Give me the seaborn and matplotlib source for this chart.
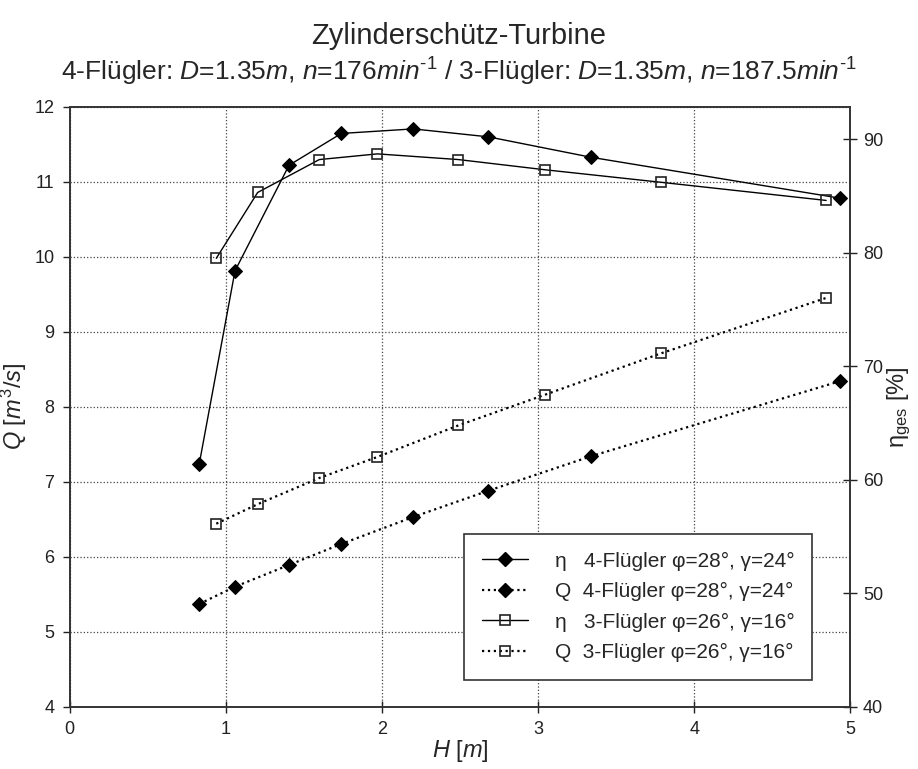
import matplotlib
matplotlib.use("Agg")
import matplotlib.pyplot as plt
import seaborn as sns
import pandas as pd
from matplotlib.lines import Line2D

# ---- data ----
H4 = [0.830, 1.059, 1.405, 1.740, 2.201, 2.682, 3.340, 4.933]
eta4 = [61.4, 78.4, 87.7, 90.5, 90.9, 90.2, 88.4, 84.8]
Q4 = [5.37, 5.60, 5.89, 6.17, 6.53, 6.88, 7.34, 8.34]

H3 = [0.939, 1.204, 1.599, 1.971, 2.489, 3.045, 3.786, 4.845]
eta3 = [79.5, 85.3, 88.2, 88.7, 88.2, 87.3, 86.2, 84.6]
Q3 = [6.44, 6.70, 7.05, 7.33, 7.75, 8.16, 8.71, 9.45]

labels = ["η   4-Flügler φ=28°, γ=24°",
          "Q  4-Flügler φ=28°, γ=24°",
          "η   3-Flügler φ=26°, γ=16°",
          "Q  3-Flügler φ=26°, γ=16°"]

x_ticks = [0, 1, 2, 3, 4, 5]
q_ticks = [4, 5, 6, 7, 8, 9, 10, 11, 12]
eta_ticks = [40, 50, 60, 70, 80, 90]

sns.set_theme(style="white")
plt.rcParams["font.family"] = ["Liberation Sans", "DejaVu Sans"]
plt.rcParams["mathtext.fontset"] = "custom"
plt.rcParams["mathtext.rm"] = "Liberation Sans"
plt.rcParams["mathtext.it"] = "Liberation Sans:italic"
plt.rcParams["mathtext.bf"] = "Liberation Sans:bold"

df4 = pd.DataFrame({"H": H4, "eta": eta4, "Q": Q4})
df3 = pd.DataFrame({"H": H3, "eta": eta3, "Q": Q3})

fig = plt.figure(figsize=(9.18, 7.69), dpi=100)
ax = fig.add_axes([0.0759, 0.081, 0.8504, 0.7803])
ax2 = ax.twinx()

dia = dict(marker="D", markersize=6.8, markerfacecolor="black", markeredgecolor="black")
sq = dict(marker="s", markersize=7.8, markerfacecolor="none", markeredgecolor="#222222", markeredgewidth=1.2)

sns.lineplot(data=df4, x="H", y="Q", ax=ax, color="black", linestyle=":", linewidth=1.6,
             sort=False, estimator=None, **dia)
sns.lineplot(data=df3, x="H", y="Q", ax=ax, color="black", linestyle=":", linewidth=1.6,
             sort=False, estimator=None, **sq)
sns.lineplot(data=df4, x="H", y="eta", ax=ax2, color="black", linestyle="-", linewidth=1.0,
             sort=False, estimator=None, **dia)
sns.lineplot(data=df3, x="H", y="eta", ax=ax2, color="black", linestyle="-", linewidth=1.0,
             sort=False, estimator=None, **sq)

ax.set_xlim(0, 5)
ax.set_ylim(4, 12)
ax2.set_ylim(40, 92.86)
ax.set_xticks(x_ticks)
ax.set_yticks(q_ticks)
ax2.set_yticks(eta_ticks)
ax.set_xticklabels([str(t) for t in x_ticks])
ax.set_yticklabels([str(t) for t in q_ticks])
ax2.set_yticklabels([str(t) for t in eta_ticks])

ax.grid(True, which="major", linestyle=":", color="#444444", linewidth=0.9)
ax2.grid(False)
for a in (ax, ax2):
    for s in a.spines.values():
        s.set_color("#333333")
        s.set_linewidth(1.2)

ax.tick_params(axis="x", direction="inout", length=8, width=1, labelsize=13, colors="#222222", pad=6)
ax.tick_params(axis="y", direction="out", length=5, width=1, labelsize=13, colors="#222222", pad=6)
ax2.tick_params(axis="y", direction="inout", length=10, width=1, labelsize=13, colors="#222222", pad=4)
ax.tick_params(left=True, bottom=True)
ax2.tick_params(right=True)

ax.set_xlabel("$H$ [$m$]", fontsize=17, labelpad=0)
ax.set_ylabel("$Q$ [$m^3/s$]", fontsize=17, labelpad=4)
ax2.set_ylabel(r"η$_{\mathrm{ges}}$ [%]", fontsize=17, labelpad=2)

fig.text(0.5, 0.953, "Zylinderschütz-Turbine", ha="center", va="center", fontsize=21)
fig.text(0.5, 0.906,
         r"4-Flügler: $D$=1.35$m$, $n$=176$min^{\text{-}1}$ / 3-Flügler: $D$=1.35$m$, $n$=187.5$min^{\text{-}1}$",
         ha="center", va="center", fontsize=19)

handles = [
    Line2D([], [], color="black", linestyle="-", linewidth=1.0, **dia),
    Line2D([], [], color="black", linestyle=":", linewidth=1.6, **dia),
    Line2D([], [], color="black", linestyle="-", linewidth=1.0, **sq),
    Line2D([], [], color="black", linestyle=":", linewidth=1.6, **sq),
]
for a in (ax, ax2):
    if a.get_legend() is not None:
        a.get_legend().remove()
leg = ax2.legend(handles, labels, loc="lower right", bbox_to_anchor=(0.951, 0.0445),
                 fontsize=15, frameon=True, fancybox=False, edgecolor="#333333",
                 handlelength=2.2, handletextpad=1.3, borderpad=0.85, labelspacing=0.55,
                 borderaxespad=0)
leg.get_frame().set_linewidth(1.2)
leg.get_frame().set_facecolor("white")
leg.get_frame().set_alpha(1)

fig.savefig("out.png", dpi=100)
